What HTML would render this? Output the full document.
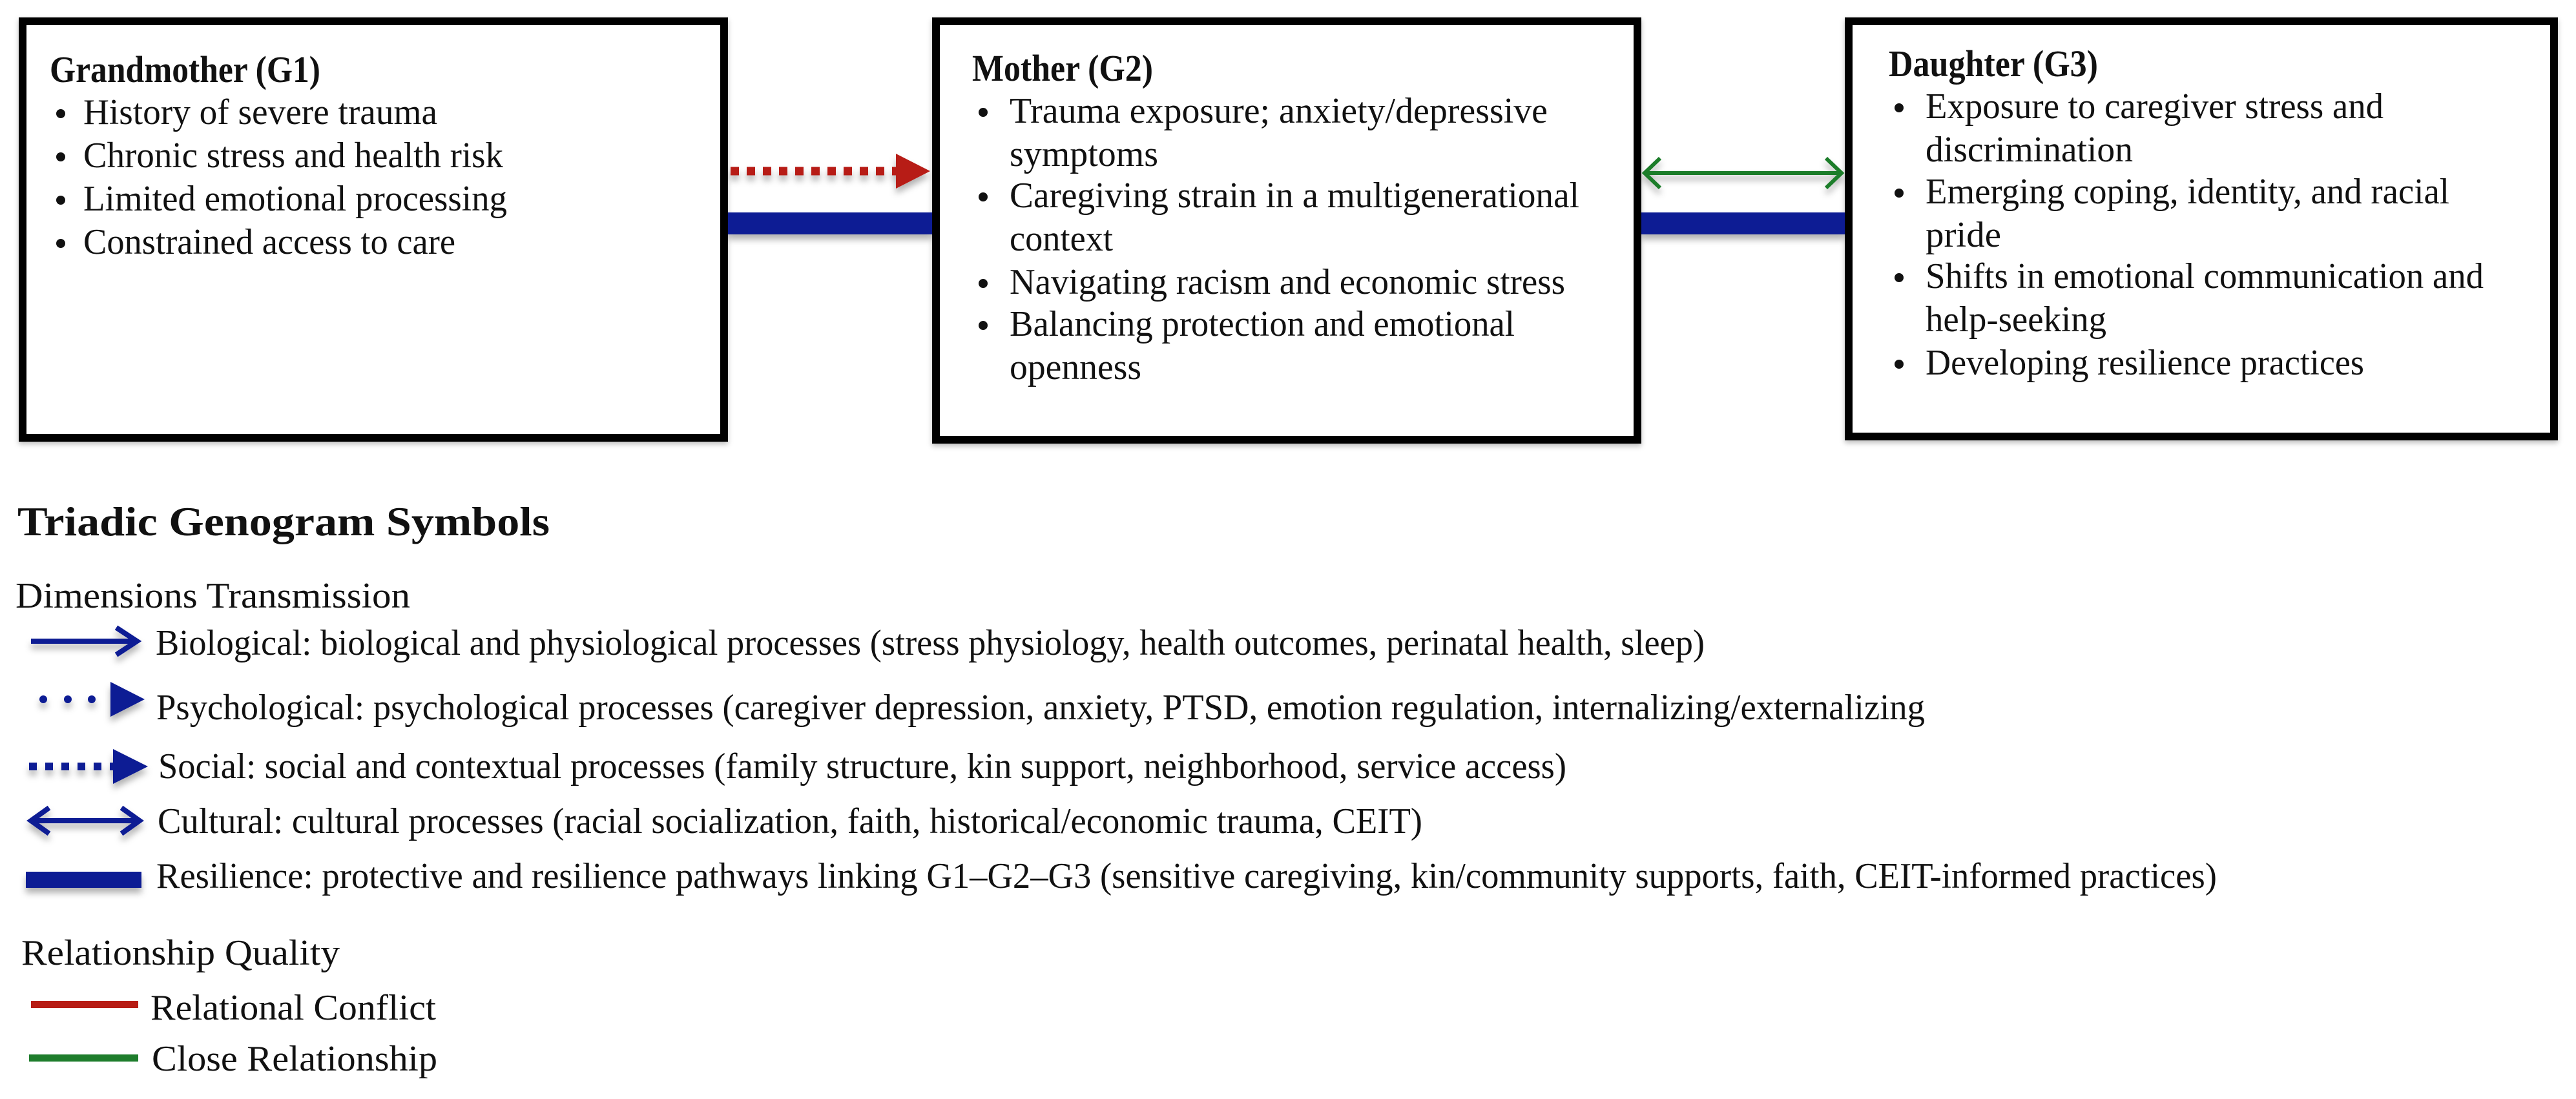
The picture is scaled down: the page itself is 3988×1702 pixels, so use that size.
<!DOCTYPE html>
<html><head><meta charset="utf-8"><style>
html,body{margin:0;padding:0;background:#fff;}
svg{display:block;}
text{font-family:"Liberation Serif",serif;fill:#111;}
</style></head><body>
<svg width="3988" height="1702" viewBox="0 0 3988 1702" xmlns="http://www.w3.org/2000/svg">
<defs>
<filter id="sh" x="-10%" y="-50%" width="120%" height="250%"><feDropShadow dx="0" dy="8" stdDeviation="5" flood-color="#000" flood-opacity="0.3"/></filter>
<filter id="shb" x="-5%" y="-5%" width="110%" height="110%"><feDropShadow dx="0" dy="4" stdDeviation="4" flood-color="#000" flood-opacity="0.25"/></filter>
</defs>

<g fill="#fff" stroke="#000" stroke-width="12" filter="url(#shb)">
<rect x="35" y="33" width="1086" height="645"/>
<rect x="1449" y="33" width="1086" height="648"/>
<rect x="2862" y="33" width="1092" height="643"/>
</g>

<g filter="url(#sh)">
<rect x="1127" y="329" width="316" height="34" fill="#0b1a94"/>
<rect x="2541" y="329" width="315" height="34" fill="#0b1a94"/>
<line x1="1131" y1="265" x2="1390" y2="265" stroke="#b71c14" stroke-width="13" stroke-dasharray="13 12"/>
<polygon points="1387,238 1440,265 1387,292" fill="#b71c14"/>
<g stroke="#1e7d2c" stroke-width="6" fill="none">
<line x1="2545" y1="268" x2="2852" y2="268"/>
<polyline points="2570,245 2546,268 2570,291"/>
<polyline points="2827,245 2851,268 2827,291"/>
</g>
</g>

<text x="77" y="127" font-size="58" font-weight="bold" textLength="419" lengthAdjust="spacingAndGlyphs">Grandmother (G1)</text>
<g font-size="56">
<circle cx="94" cy="176" r="7" fill="#111"/><text x="129" y="192" textLength="548" lengthAdjust="spacingAndGlyphs">History of severe trauma</text>
<circle cx="94" cy="243" r="7" fill="#111"/><text x="129" y="259" textLength="650" lengthAdjust="spacingAndGlyphs">Chronic stress and health risk</text>
<circle cx="94" cy="310" r="7" fill="#111"/><text x="129" y="326" textLength="656" lengthAdjust="spacingAndGlyphs">Limited emotional processing</text>
<circle cx="94" cy="377" r="7" fill="#111"/><text x="129" y="393" textLength="576" lengthAdjust="spacingAndGlyphs">Constrained access to care</text>
</g>

<text x="1505" y="125" font-size="58" font-weight="bold" textLength="280" lengthAdjust="spacingAndGlyphs">Mother (G2)</text>
<g font-size="56">
<circle cx="1522" cy="174" r="7" fill="#111"/><text x="1563" y="190" textLength="833" lengthAdjust="spacingAndGlyphs">Trauma exposure; anxiety/depressive</text>
<text x="1563" y="257" textLength="230" lengthAdjust="spacingAndGlyphs">symptoms</text>
<circle cx="1522" cy="305" r="7" fill="#111"/><text x="1563" y="321" textLength="882" lengthAdjust="spacingAndGlyphs">Caregiving strain in a multigenerational</text>
<text x="1563" y="388" textLength="160" lengthAdjust="spacingAndGlyphs">context</text>
<circle cx="1522" cy="439" r="7" fill="#111"/><text x="1563" y="455" textLength="860" lengthAdjust="spacingAndGlyphs">Navigating racism and economic stress</text>
<circle cx="1522" cy="504" r="7" fill="#111"/><text x="1563" y="520" textLength="782" lengthAdjust="spacingAndGlyphs">Balancing protection and emotional</text>
<text x="1563" y="587" textLength="204" lengthAdjust="spacingAndGlyphs">openness</text>
</g>

<text x="2924" y="118" font-size="58" font-weight="bold" textLength="324" lengthAdjust="spacingAndGlyphs">Daughter (G3)</text>
<g font-size="56">
<circle cx="2940" cy="167" r="7" fill="#111"/><text x="2981" y="183" textLength="709" lengthAdjust="spacingAndGlyphs">Exposure to caregiver stress and</text>
<text x="2981" y="250" textLength="321" lengthAdjust="spacingAndGlyphs">discrimination</text>
<circle cx="2940" cy="299" r="7" fill="#111"/><text x="2981" y="315" textLength="811" lengthAdjust="spacingAndGlyphs">Emerging coping, identity, and racial</text>
<text x="2981" y="382" textLength="117" lengthAdjust="spacingAndGlyphs">pride</text>
<circle cx="2940" cy="430" r="7" fill="#111"/><text x="2981" y="446" textLength="864" lengthAdjust="spacingAndGlyphs">Shifts in emotional communication and</text>
<text x="2981" y="513" textLength="280" lengthAdjust="spacingAndGlyphs">help-seeking</text>
<circle cx="2940" cy="564" r="7" fill="#111"/><text x="2981" y="580" textLength="679" lengthAdjust="spacingAndGlyphs">Developing resilience practices</text>
</g>

<text x="27" y="829" font-size="64" font-weight="bold" textLength="824" lengthAdjust="spacingAndGlyphs">Triadic Genogram Symbols</text>
<text x="24" y="941" font-size="56" textLength="611" lengthAdjust="spacingAndGlyphs">Dimensions Transmission</text>

<g filter="url(#sh)">
<g stroke="#0d1a94" stroke-width="8" fill="none">
<line x1="48" y1="993" x2="212" y2="993"/>
<polyline points="180,972 212,993 180,1014"/>
<line x1="50" y1="1271" x2="214" y2="1271"/>
<polyline points="76,1251 48,1271 76,1291"/>
<polyline points="188,1251 216,1271 188,1291"/>
</g>
<g fill="#0d1a94">
<circle cx="67" cy="1083" r="6"/><circle cx="105" cy="1083" r="6"/><circle cx="142" cy="1083" r="6"/>
<polygon points="171,1056 224,1083 171,1110"/>
<line x1="45" y1="1187" x2="178" y2="1187" stroke="#0d1a94" stroke-width="12" stroke-dasharray="12 13"/>
<polygon points="175,1160 229,1187 175,1214"/>
<rect x="40" y="1350" width="179" height="25"/>
</g>
</g>

<g font-size="56">
<text x="241" y="1014" textLength="2398" lengthAdjust="spacingAndGlyphs">Biological: biological and physiological processes (stress physiology, health outcomes, perinatal health, sleep)</text>
<text x="242" y="1114" textLength="2738" lengthAdjust="spacingAndGlyphs">Psychological: psychological processes (caregiver depression, anxiety, PTSD, emotion regulation, internalizing/externalizing</text>
<text x="245" y="1205" textLength="2180" lengthAdjust="spacingAndGlyphs">Social: social and contextual processes (family structure, kin support, neighborhood, service access)</text>
<text x="244" y="1290" textLength="1958" lengthAdjust="spacingAndGlyphs">Cultural: cultural processes (racial socialization, faith, historical/economic trauma, CEIT)</text>
<text x="242" y="1375" textLength="3190" lengthAdjust="spacingAndGlyphs">Resilience: protective and resilience pathways linking G1–G2–G3 (sensitive caregiving, kin/community supports, faith, CEIT-informed practices)</text>
<text x="33" y="1494" textLength="493" lengthAdjust="spacingAndGlyphs">Relationship Quality</text>
<text x="233" y="1579" textLength="442" lengthAdjust="spacingAndGlyphs">Relational Conflict</text>
<text x="235" y="1658" textLength="442" lengthAdjust="spacingAndGlyphs">Close Relationship</text>
</g>
<rect x="48" y="1550" width="166" height="11" fill="#b71c14"/>
<rect x="45" y="1633" width="169" height="11" fill="#1e7d2c"/>
</svg>
</body></html>
